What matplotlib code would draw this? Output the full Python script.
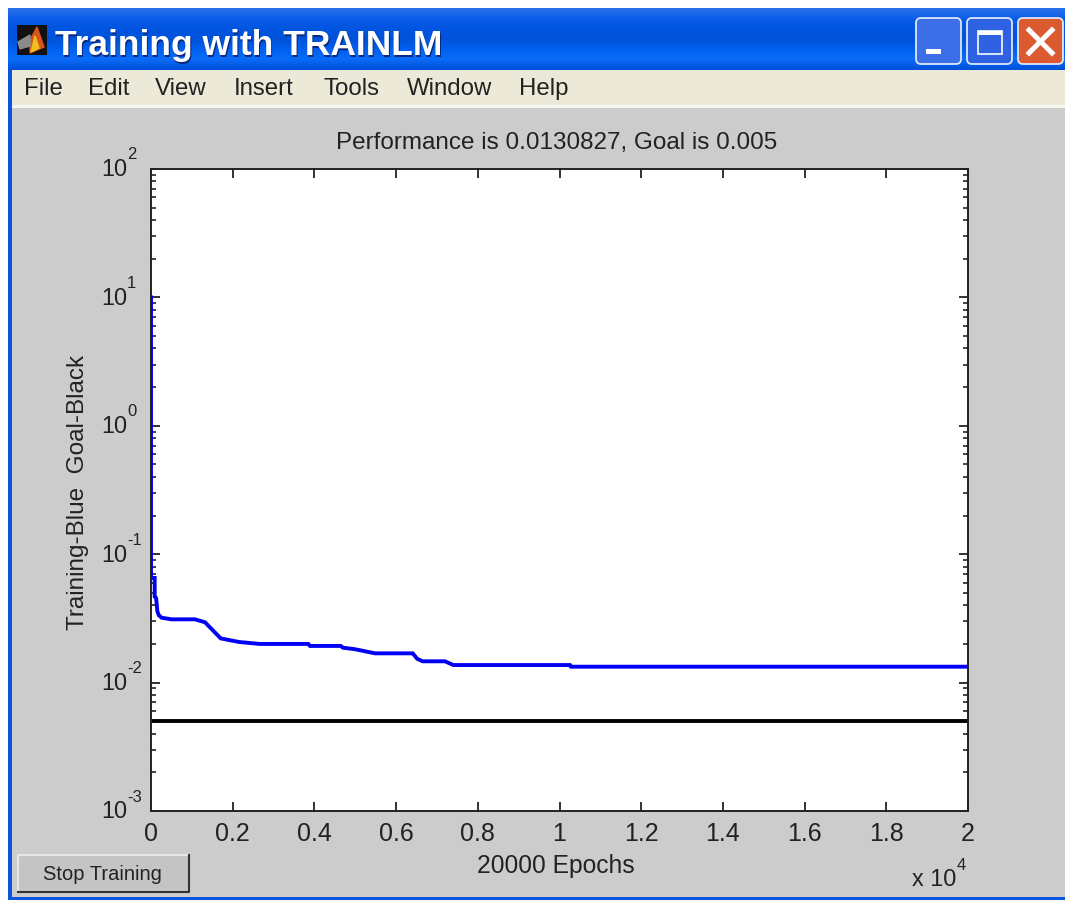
import numpy as np
import matplotlib
matplotlib.use("Agg")
import matplotlib.pyplot as plt
from matplotlib.patches import Rectangle, FancyBboxPatch
from matplotlib.colors import LinearSegmentedColormap
from matplotlib.ticker import FixedLocator, FuncFormatter, LogLocator, NullFormatter

epochs = [0, 0, 90, 90, 125, 155, 190, 261, 506, 1077, 1322, 1706, 1894, 2162, 2668, 3851, 3892, 4644,
          4700, 4994, 5484, 6406, 6519, 6650, 7197, 7400, 10257, 10280, 20000]
performance = [10, 0.0653, 0.0653, 0.0467, 0.0455, 0.036, 0.0335, 0.032, 0.0311, 0.0311, 0.0295, 0.0221, 0.0215,
               0.0207, 0.02, 0.02, 0.0193, 0.0193, 0.0187, 0.0182, 0.0169, 0.0169, 0.0153, 0.01465,
               0.01465, 0.0137, 0.0137, 0.0133, 0.0133]
goal_epochs = [0, 20000]
goal_values = [0.005, 0.005]
x_ticks = [0, 2000, 4000, 6000, 8000, 10000, 12000, 14000, 16000, 18000, 20000]
x_labels = ["0", "0.2", "0.4", "0.6", "0.8", "1", "1.2", "1.4", "1.6", "1.8", "2"]
y_ticks = [1e-3, 1e-2, 1e-1, 1, 10, 100]
y_exponents = ["-3", "-2", "-1", "0", "1", "2"]
menu_items = [("File", 24), ("Edit", 88), ("View", 155), ("Insert", 234), ("Tools", 323),
              ("Window", 407), ("Help", 519)]

W, H = 1065, 900
plt.rcParams["font.family"] = ["Liberation Sans", "DejaVu Sans"]

fig = plt.figure(figsize=(W / 100, H / 100), dpi=100, facecolor="white")
bg = fig.add_axes([0, 0, 1, 1], zorder=0)
bg.axis("off")

# Window frame
bg.add_patch(Rectangle((8, 60), W - 8, H - 60, fc="#0A55E0", ec="none"))
bar = LinearSegmentedColormap.from_list("bar", ["#2A72EC", "#0A5CE8", "#0055DF", "#0052DA", "#0060F0", "#0A6CF8", "#0050D8"])
bg.imshow(np.linspace(0, 1, 64)[:, None], extent=(8, W, 70, 8), cmap=bar, aspect="auto", zorder=1)
bg.set_xlim(0, W)
bg.set_ylim(H, 0)
bg.add_patch(Rectangle((12, 70), W - 12, 35, fc="#ECE9D8", ec="none", zorder=2))
bg.add_patch(Rectangle((12, 105), W - 12, 3, fc="#F6F5EE", ec="none", zorder=2))
bg.add_patch(Rectangle((12, 108), W - 12, H - 111, fc="#CCCCCC", ec="none", zorder=2))

# Title bar icon and text
bg.add_patch(Rectangle((17, 25), 30, 30, fc="#111111", ec="none", zorder=3))
bg.fill([37, 44, 30, 30], [27, 47, 53, 40], color="#D8541C", zorder=4)
bg.fill([35, 39, 31], [36, 48, 52], color="#F0C020", zorder=5)
bg.fill([18, 30, 30, 20], [42, 35, 46, 49], color="#8A8A8A", zorder=4)
for off, col, z in [(1.5, "#0A2A80", 3), (0, "white", 4)]:
    bg.text(55 + off, 55 + off, "Training with TRAINLM", color=col, fontsize=25.5, fontweight="bold",
            family="Liberation Sans", va="baseline", ha="left", zorder=z)

# Title bar buttons
for x0, col in [(916, "#3C6EE8"), (967, "#2F62E2"), (1018, "#DC5A30")]:
    bg.add_patch(FancyBboxPatch((x0, 18), 45, 46, boxstyle="round,pad=0,rounding_size=5",
                                fc=col, ec="#DDE6FA", lw=1.3, zorder=3))
bg.add_patch(Rectangle((926, 49), 15, 5, fc="white", ec="none", zorder=4))
bg.add_patch(Rectangle((978, 31), 24, 23, fc="none", ec="#E8F0FF", lw=1.3, zorder=4))
bg.add_patch(Rectangle((978, 31), 24, 4, fc="white", ec="none", zorder=4))
bg.plot([1029, 1052], [30, 53], color="white", lw=3.6, zorder=4)
bg.plot([1052, 1029], [30, 53], color="white", lw=3.6, zorder=4)

# Menu
for label, x0 in menu_items:
    bg.text(x0, 95, label, fontsize=17.3, color="#222222", va="baseline", ha="left", zorder=4)

# Stop Training button
bg.add_patch(Rectangle((18, 855), 171, 37, fc="#C4C4C4", ec="none", zorder=3))
bg.plot([18, 18, 189], [892, 855, 855], color="#E6E6E6", lw=1.5, zorder=4)
bg.plot([18, 189, 189], [892, 892, 855], color="#333333", lw=1.5, zorder=4)
bg.text(102, 874, "Stop Training", fontsize=14.5, color="#222222", va="center", ha="center", zorder=4)

# Plot
ax = fig.add_axes([151 / W, 1 - 811 / H, (968 - 151) / W, (811 - 169) / H], zorder=2)
ax.set_facecolor("white")
ax.plot(goal_epochs, goal_values, color="black", lw=2.8, solid_capstyle="butt", zorder=2)
ax.plot(epochs, performance, color="#0000F5", lw=2.8, solid_joinstyle="miter", zorder=3)
ax.set_yscale("log")
ax.set_xlim(0, 20000)
ax.set_ylim(1e-3, 1e2)
ax.xaxis.set_major_locator(FixedLocator(x_ticks))
ax.xaxis.set_major_formatter(FuncFormatter(lambda v, p: x_labels[p] if p is not None and p < len(x_labels) else ""))
ax.yaxis.set_major_locator(FixedLocator(y_ticks))
ax.yaxis.set_major_formatter(NullFormatter())
ax.yaxis.set_minor_locator(LogLocator(base=10, subs=np.arange(2, 10), numticks=12))
ax.yaxis.set_minor_formatter(NullFormatter())
ax.tick_params(axis="both", which="major", direction="in", length=6.5, width=1.3, top=True, right=True,
               colors="#222222")
ax.tick_params(axis="x", labelsize=18, pad=8)
ax.tick_params(axis="y", which="minor", direction="in", length=3.5, width=1.2, left=True, right=True, colors="#222222")
for s in ax.spines.values():
    s.set_linewidth(1.4)
    s.set_color("#222222")

px = 0.72
for v, e in zip(y_ticks, y_exponents):
    ax.annotate("10", xy=(0, v), xycoords=("axes fraction", "data"), xytext=(-49.5 * px, -1 * px),
                textcoords="offset points", fontsize=16.8, color="#222222", ha="left", va="center", annotation_clip=False)
    ax.annotate(e, xy=(0, v), xycoords=("axes fraction", "data"), xytext=(-24 * px, 14 * px),
                textcoords="offset points", fontsize=12, color="#222222", ha="left", va="center", annotation_clip=False)

fig.text(556.5 / W, 1 - 142.5 / H, "Performance is 0.0130827, Goal is 0.005", fontsize=17.5, color="#222222", ha="center", va="center")
fig.text(555.5 / W, 1 - 866.5 / H, "20000 Epochs", fontsize=17.7, color="#222222", ha="center", va="center")
fig.text(78 / W, 1 - 492 / H, "Training-Blue  Goal-Black", fontsize=17.5, color="#222222", ha="center", va="center", rotation=90)
fig.text(912 / W, 1 - 886 / H, "x 10", fontsize=16.8, color="#222222", ha="left", va="baseline")
fig.text(957 / W, 1 - 866 / H, "4", fontsize=12, color="#222222", ha="left", va="center")

fig.savefig("out.png", dpi=100, facecolor="white")
